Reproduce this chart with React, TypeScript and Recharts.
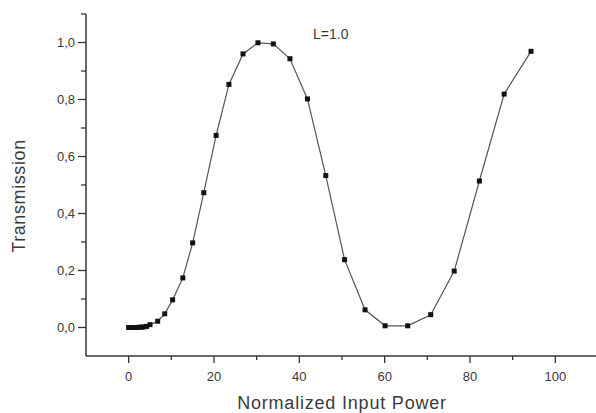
import React from 'react';
import { LineChart, Line, XAxis, YAxis } from 'recharts';

const powerValues = [
  0, 0.5, 1.0, 1.5, 2.0, 2.5, 3.0, 3.6, 4.2, 5.0, 6.8, 8.45, 10.3, 12.7, 15.0, 17.6, 20.5, 23.5,
  26.8, 30.3, 33.9, 37.8, 41.9, 46.2, 50.6, 55.4, 60.1, 65.4, 70.8, 76.3, 82.2, 88.0, 94.3,
];
const transmissionValues = [
  0, 0, 0, 0, 0, 0.001, 0.001, 0.002, 0.004, 0.01, 0.022, 0.048, 0.097, 0.174, 0.297, 0.473, 0.674, 0.853,
  0.96, 0.999, 0.995, 0.943, 0.802, 0.533, 0.238, 0.062, 0.006, 0.006, 0.045, 0.198, 0.514, 0.819, 0.969,
];
const xTicks = [0, 10, 20, 30, 40, 50, 60, 70, 80, 90, 100];
const yTicks = [0, 0.1, 0.2, 0.3, 0.4, 0.5, 0.6, 0.7, 0.8, 0.9, 1.0, 1.1];

const data = powerValues.map((x, i) => ({ x, t: transmissionValues[i] }));

const FONT = '"Liberation Sans", Arial, sans-serif';
const AXIS = '#2f3540';
const TEXT = '#3a3a3a';

const XTick = (props: any) => {
  const { x, y, payload } = props;
  const major = payload.value % 20 === 0;
  return (
    <g>
      <line x1={x} y1={y} x2={x} y2={y + (major ? 7 : 4)} stroke={AXIS} strokeWidth={1.3} />
      {major && (
        <text x={x} y={y + 20} textAnchor="middle" dominantBaseline="central" fontSize={13} fill={TEXT} fontFamily={FONT}>
          {payload.value}
        </text>
      )}
    </g>
  );
};

const YTick = (props: any) => {
  const { x, y, payload } = props;
  const v = Math.round(payload.value * 10);
  const major = v % 2 === 0 && v <= 10;
  return (
    <g>
      <line x1={x - (major ? 8 : 5)} y1={y} x2={x} y2={y} stroke={AXIS} strokeWidth={1.3} />
      {major && (
        <text x={x - 11} y={y} textAnchor="end" dominantBaseline="central" fontSize={13} fill={TEXT} fontFamily={FONT}>
          {(v / 10).toFixed(1).replace('.', ',')}
        </text>
      )}
    </g>
  );
};

const SquareDot = (props: any) => {
  const { cx, cy, index } = props;
  if (cx == null || cy == null) return <g key={index} />;
  return <rect key={index} x={cx - 2.5} y={cy - 2.5} width={5} height={5} fill="#111" />;
};

export default function App() {
  return (
    <div style={{ position: 'absolute', left: 0, top: 0, width: 596, height: 413, background: '#fff', overflow: 'hidden' }}>
      <LineChart width={598} height={413} data={data} margin={{ top: 14, right: 0, left: 0, bottom: 0 }}>
        <XAxis
          dataKey="x"
          type="number"
          domain={[-10, 110]}
          ticks={xTicks}
          tick={<XTick />}
          tickLine={false}
          tickSize={0}
          tickMargin={0}
          height={57}
          stroke={AXIS}
          strokeWidth={1.5}
          label={{
            content: (p: any) => {
              const vb = p.viewBox;
              return (
                <text x={342} y={vb.y + 47} textAnchor="middle" dominantBaseline="central" fontSize={18} letterSpacing={0.8} fill={TEXT} fontFamily={FONT}>
                  Normalized Input Power
                </text>
              );
            },
          }}
        />
        <YAxis
          dataKey="t"
          type="number"
          domain={[-0.1, 1.1]}
          ticks={yTicks}
          tick={<YTick />}
          tickLine={false}
          tickSize={0}
          tickMargin={0}
          width={86}
          stroke={AXIS}
          strokeWidth={1.5}
          label={{
            content: () => (
              <text
                x={19}
                y={196}
                transform="rotate(-90 19 196)"
                textAnchor="middle"
                dominantBaseline="central"
                fontSize={18}
                letterSpacing={0.6}
                fill={TEXT}
                fontFamily={FONT}
              >
                Transmission
              </text>
            ),
          }}
        />
        <Line
          type="linear"
          dataKey="t"
          stroke="#555"
          strokeWidth={1.2}
          dot={<SquareDot />}
          activeDot={false}
          isAnimationActive={false}
        />
      </LineChart>
      <div style={{ position: 'absolute', left: 313, top: 25, fontSize: 14, fontFamily: FONT, color: TEXT, lineHeight: '18px' }}>
        L=1.0
      </div>
    </div>
  );
}
